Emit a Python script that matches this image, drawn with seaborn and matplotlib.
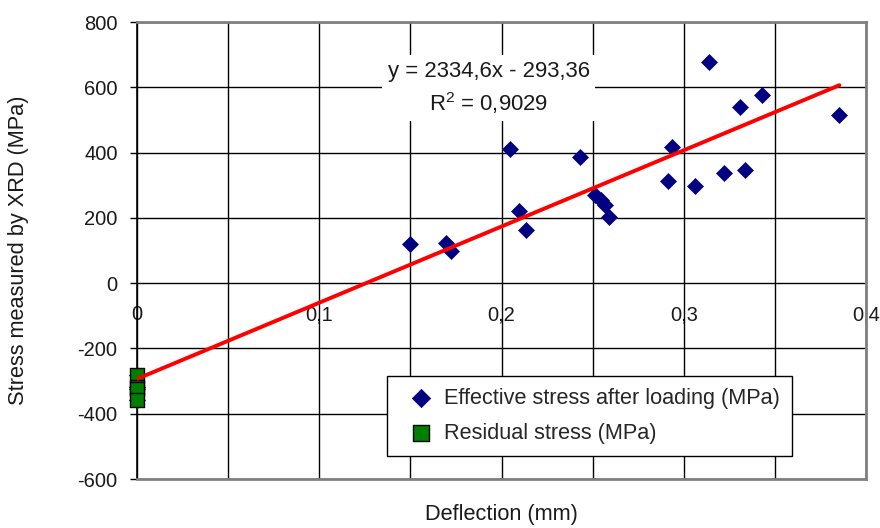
"""Stress measured by XRD vs deflection, with linear trend line"""

import numpy as np
import matplotlib
matplotlib.use("Agg")
import matplotlib.pyplot as plt
import seaborn as sns

# effective stress after loading (x = deflection in mm, y = MPa)
eff_x = [0.0, 0.0, 0.0, 0.0,
         0.1498, 0.1695, 0.1724, 0.2045, 0.2096, 0.2136, 0.2431, 0.2515,
         0.2544, 0.2570, 0.2592, 0.2913, 0.2938, 0.3059, 0.3137, 0.3221,
         0.3310, 0.3338, 0.3427, 0.3854]
eff_y = [-280, -318, -325, -358,
         120, 123, 98, 410, 222, 162, 385, 270,
         254, 239, 203, 313, 417, 297, 678, 338,
         540, 348, 576, 515]

# residual stress (no load)
res_x = [0.0, 0.0, 0.0, 0.0]
res_y = [-280, -318, -325, -358]

# trend line as reported in the chart
slope = 2334.6
intercept = -293.36
eq_text = "y = 2334,6x - 293,36\nR$^2$ = 0,9029"

x_ticks = [0, 0.1, 0.2, 0.3, 0.4]
x_grid = [0, 0.05, 0.1, 0.15, 0.2, 0.25, 0.3, 0.35, 0.4]
y_ticks = [-600, -400, -200, 0, 200, 400, 600, 800]

sns.set_theme(style="white")
plt.rcParams["font.family"] = ["Liberation Sans", "DejaVu Sans"]
plt.rcParams["axes.unicode_minus"] = False
plt.rcParams["mathtext.fontset"] = "custom"
plt.rcParams["mathtext.rm"] = "Liberation Sans"
plt.rcParams["mathtext.it"] = "Liberation Sans"

fig = plt.figure(figsize=(8.8, 5.28), dpi=100)
ax = fig.add_axes([0.1557, 0.0928, 0.8284, 0.8655])

sns.scatterplot(x=eff_x, y=eff_y, marker="D", s=66, color="#000080",
                edgecolor="#000080", linewidth=0.5, zorder=3, ax=ax,
                clip_on=False, label="Effective stress after loading (MPa)")
sns.scatterplot(x=res_x, y=res_y, marker="s", s=100, color="#008000",
                edgecolor="black", linewidth=1, zorder=4, ax=ax,
                clip_on=False, label="Residual stress (MPa)")

line_x = np.array([0, max(eff_x)])
sns.lineplot(x=line_x, y=slope * line_x + intercept, color="red", lw=2.8,
             zorder=5, ax=ax, legend=False)

ax.set_xlim(0, 0.4)
ax.set_ylim(-600, 800)
ax.set_xticks(x_grid)
ax.set_yticks(y_ticks)
ax.set_yticklabels([str(v) for v in y_ticks])
ax.grid(True, color="black", lw=1)
ax.set_axisbelow(True)
ax.tick_params(axis="x", length=0, labelbottom=False)
ax.tick_params(axis="y", left=True, length=5, width=1, color="black",
               direction="out", pad=9, labelsize=14.5, labelcolor="#1a1a1a")

for side in ["top", "right", "bottom"]:
    ax.spines[side].set_color("#808080")
    ax.spines[side].set_linewidth(2)
ax.spines["left"].set_color("black")
ax.spines["left"].set_linewidth(1.2)

# x tick labels sit along the y = 0 line
zero_pos = (0 - y_ticks[0]) / (y_ticks[-1] - y_ticks[0])
sec = ax.secondary_xaxis(zero_pos)
sec.set_xticks(x_ticks, labels=[f"{v:g}".replace(".", ",") for v in x_ticks])
sec.tick_params(length=0, pad=16, labelsize=14.5, labelcolor="#1a1a1a")
sec.spines["bottom"].set_visible(False)
sec.spines["top"].set_visible(False)

ax.set_xlabel("Deflection (mm)", fontsize=15.7, color="#1a1a1a")
ax.set_ylabel("Stress measured by XRD (MPa)", fontsize=15.7, color="#1a1a1a")
ax.xaxis.set_label_coords(0.5, -0.055)
ax.xaxis.label.set_va("top")
ax.yaxis.set_label_coords(-0.148, 0.5)

ax.text(0.193, 597, eq_text, ha="center", va="center", fontsize=15.9,
        linespacing=1.4, color="#1a1a1a", zorder=6,
        bbox=dict(facecolor="white", edgecolor="none", pad=4))

leg = ax.legend(loc="upper left", bbox_to_anchor=(0.343, 0.2254),
                borderaxespad=0, fontsize=15.6, frameon=True, fancybox=False,
                framealpha=1, edgecolor="black", handlelength=2.0,
                handletextpad=0.1, borderpad=0.55, labelspacing=0.65,
                markerscale=1.15)
leg.get_frame().set_linewidth(1)

fig.savefig("out.png", dpi=100)
